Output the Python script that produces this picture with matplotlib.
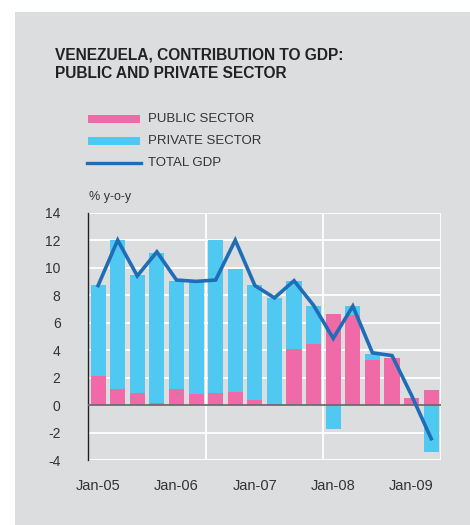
import matplotlib
matplotlib.use("Agg")
import matplotlib.pyplot as plt
from matplotlib.patches import Rectangle
from matplotlib.lines import Line2D
import numpy as np

plt.rcParams['font.family'] = ['Liberation Sans', 'DejaVu Sans']
plt.rcParams['axes.unicode_minus'] = False

# quarterly, 2005Q1 .. 2009Q2
public = [2.15, 1.15, 0.9, 0.12, 1.15, 0.8, 0.9, 0.95, 0.36, 0.1,
          4.05, 4.45, 6.6, 6.55, 3.3, 3.45, 0.5, 1.1]
private = [6.6, 10.85, 8.55, 10.95, 7.9, 8.25, 11.1, 8.95, 8.4, 7.7,
           5.0, 2.75, -1.75, 0.65, 0.45, 0.0, 0.0, -3.45]
total_gdp = [8.7, 12.0, 9.4, 11.15, 9.1, 9.0, 9.1, 12.0, 8.7, 7.8,
             9.05, 7.25, 4.85, 7.2, 3.8, 3.6, 0.7, -2.45]
tick_pos = [0, 4, 8, 12, 16]
tick_labels = ["Jan-05", "Jan-06", "Jan-07", "Jan-08", "Jan-09"]

PINK = "#F06AA7"
CYAN = "#4FC9F2"
NAVY = "#1E6DB6"
BG = "#DCDDDF"
TXT = "#333333"

fig = plt.figure(figsize=(4.7, 5.25), dpi=100)
fig.patch.set_facecolor("white")
fig.add_artist(Rectangle((15 / 470, 0), 1, 1 - 12 / 525, transform=fig.transFigure,
                         facecolor=BG, edgecolor="none", zorder=-10))

ax = fig.add_axes([88.3 / 470, 1 - 460 / 525, (441 - 88.3) / 470, (460 - 212.7) / 525])
ax.set_facecolor(BG)

x = np.arange(len(public))
pub = np.array(public)
prv = np.array(private)
# private stacks on top of public when positive, below zero when negative
prv_bottom = np.where(prv >= 0, pub, 0)
ax.bar(x, pub, width=0.77, color=PINK, zorder=2)
ax.bar(x, prv, bottom=prv_bottom, width=0.77, color=CYAN, zorder=2)
ax.plot(x, total_gdp, color=NAVY, lw=2.6, zorder=4, solid_joinstyle="miter")
ax.axhline(0, color="#6b6b6b", lw=1.3, zorder=3)

ax.set_xlim(-0.5, 17.5)
ax.set_ylim(-4, 14)
ax.set_xticks(tick_pos)
ax.set_xticklabels(tick_labels)
ax.set_yticks(range(-4, 15, 2))
for yv in range(-4, 15, 2):
    ax.axhline(yv, color="white", lw=1.3, zorder=1)
for xv in [5.5, 11.5, 17.5]:
    ax.axvline(xv, color="white", lw=1.3, zorder=1)

for s in ["top", "right", "bottom"]:
    ax.spines[s].set_visible(False)
ax.spines["left"].set_color("#222222")
ax.spines["left"].set_linewidth(1.0)
ax.tick_params(axis="both", length=0, colors=TXT)
ax.tick_params(axis="y", pad=20, labelsize=10)
ax.tick_params(axis="x", pad=14, labelsize=10.5)

fig.text(89 / 470, 1 - 197 / 525, "% y-o-y", fontsize=9, color=TXT, va="center", ha="left")

fig.text(55 / 470, 1 - 55 / 525, "VENEZUELA, CONTRIBUTION TO GDP:", fontsize=11.2,
         fontweight="bold", color="#222222", va="center", ha="left")
fig.text(55 / 470, 1 - 73 / 525, "PUBLIC AND PRIVATE SECTOR", fontsize=11.2,
         fontweight="bold", color="#222222", va="center", ha="left")

# legend
leg = [("PUBLIC SECTOR", PINK, 119), ("PRIVATE SECTOR", CYAN, 141), ("TOTAL GDP", NAVY, 163)]
for name, col, yp in leg:
    if name == "TOTAL GDP":
        fig.add_artist(Line2D([87 / 470, 141 / 470], [1 - yp / 525] * 2, color=col, lw=2.4,
                              transform=fig.transFigure))
    else:
        fig.add_artist(Rectangle((88 / 470, 1 - (yp + 4) / 525), 52 / 470, 8 / 525,
                                 transform=fig.transFigure, facecolor=col, edgecolor="none"))
    fig.text(148 / 470, 1 - yp / 525, name, fontsize=9.5, color=TXT, va="center", ha="left")

fig.savefig("out.png", dpi=100, facecolor=fig.get_facecolor())
